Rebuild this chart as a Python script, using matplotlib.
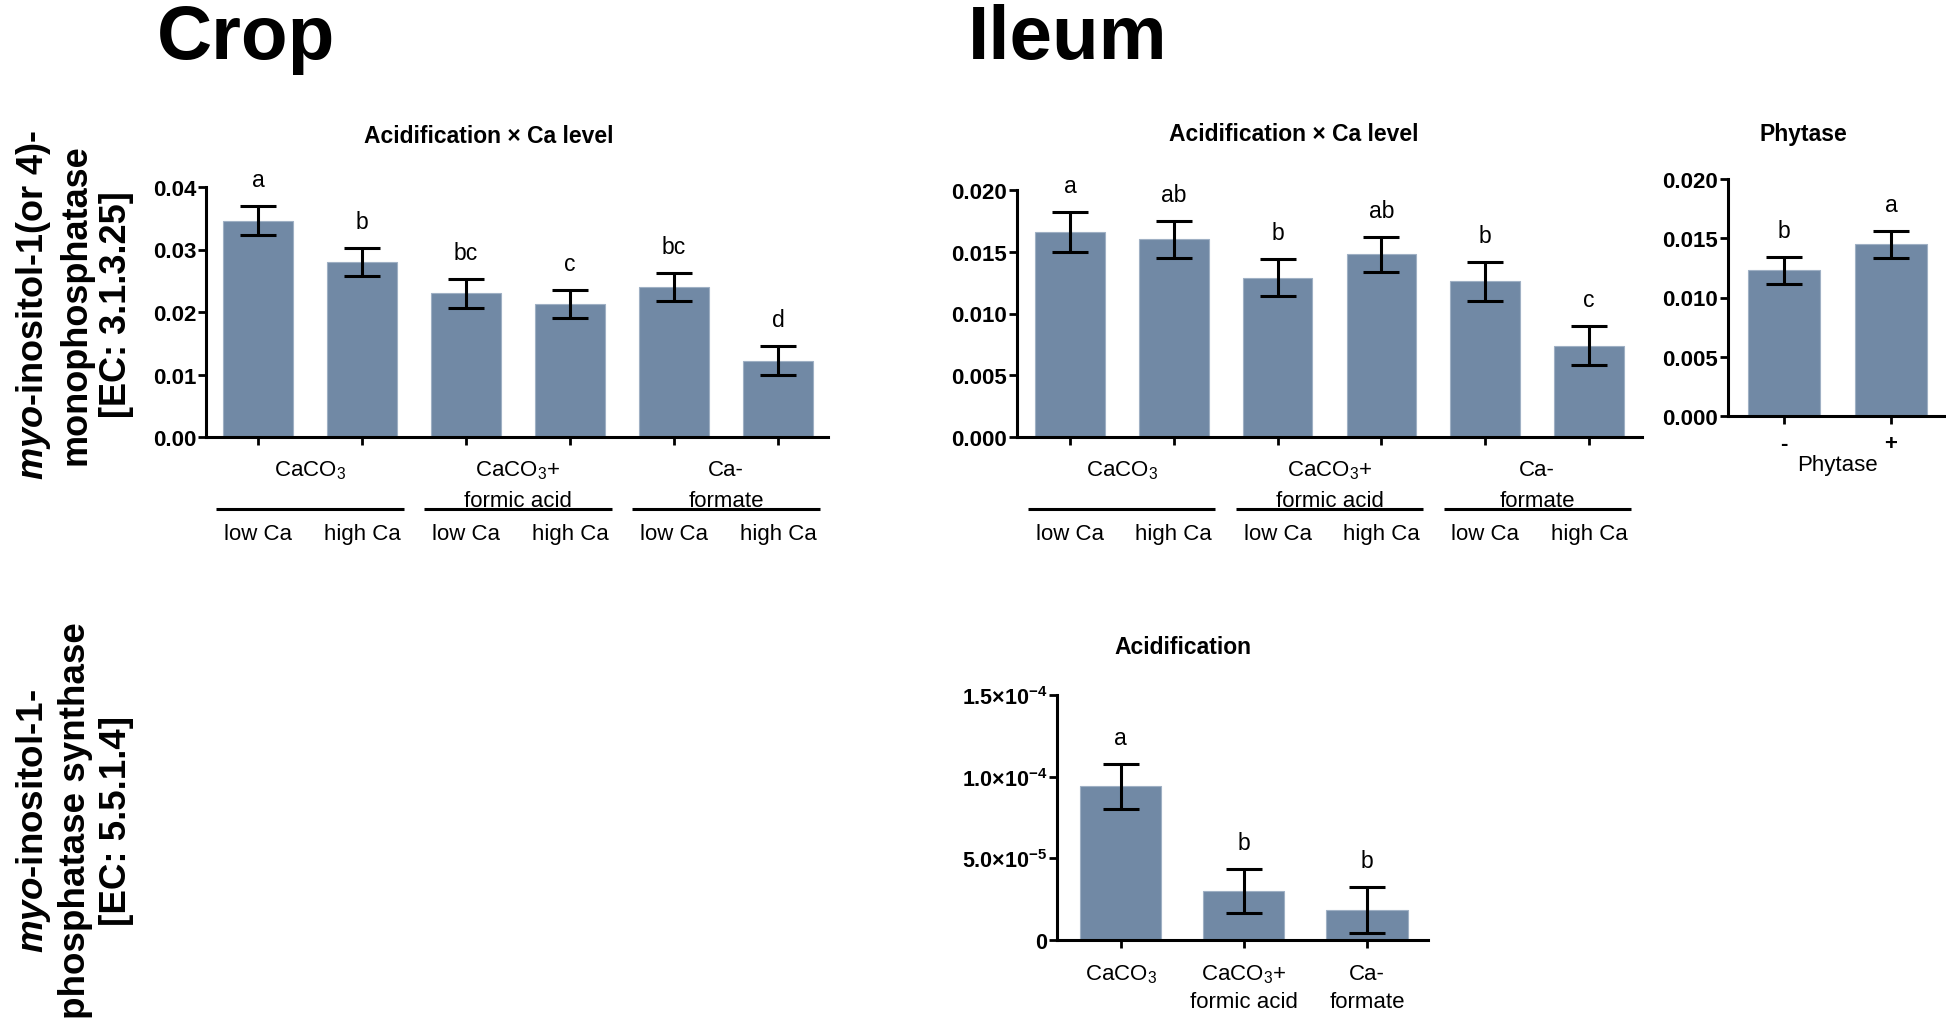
import numpy as np
import matplotlib
matplotlib.use('Agg')
import matplotlib.pyplot as plt

plt.rcParams['font.family'] = ['Liberation Sans', 'DejaVu Sans']
plt.rcParams['mathtext.fontset'] = 'custom'
plt.rcParams['mathtext.rm'] = 'Liberation Sans'
plt.rcParams['mathtext.it'] = 'Liberation Sans:italic'
plt.rcParams['mathtext.bf'] = 'Liberation Sans:bold'
plt.rcParams['mathtext.bfit'] = 'Liberation Sans:italic:bold'

# data
crop_vals = [0.0346, 0.0280, 0.0230, 0.0213, 0.0240, 0.0122]
crop_err = [0.0023, 0.0022, 0.0023, 0.0022, 0.0022, 0.0023]
crop_letters = ['a', 'b', 'bc', 'c', 'bc', 'd']

ileum_vals = [0.0166, 0.0160, 0.0129, 0.0148, 0.0126, 0.0074]
ileum_err = [0.0016, 0.0015, 0.0015, 0.0014, 0.0016, 0.0016]
ileum_letters = ['a', 'ab', 'b', 'ab', 'b', 'c']

phy_vals = [0.0123, 0.0145]
phy_err = [0.00115, 0.00113]
phy_letters = ['b', 'a']
phy_ticks = ['-', '+']

acid_vals = [9.4e-5, 3.0e-5, 1.86e-5]
acid_err = [1.4e-5, 1.32e-5, 1.41e-5]
acid_letters = ['a', 'b', 'b']

groups = ['CaCO$_3$', 'CaCO$_3$+\nformic acid', 'Ca-\nformate']
levels = ['low Ca', 'high Ca']

crop_yticks = [0.0, 0.01, 0.02, 0.03, 0.04]
crop_ylabels = ['0.00', '0.01', '0.02', '0.03', '0.04']
ileum_yticks = [0.0, 0.005, 0.010, 0.015, 0.020]
ileum_ylabels = ['0.000', '0.005', '0.010', '0.015', '0.020']
acid_yticks = [0.0, 5e-5, 1e-4, 1.5e-4]
acid_ylabels = ['0', r'$\mathbf{5.0{\times}10^{-5}}$', r'$\mathbf{1.0{\times}10^{-4}}$',
                r'$\mathbf{1.5{\times}10^{-4}}$']

BAR = '#7189a5'
EDGE = '#9fb0c4'
W, H = 1946, 1020
PT = 0.72  # points per pixel at dpi 100


def px_axes(left, top, right, bottom):
    return [left / W, 1 - bottom / H, (right - left) / W, (bottom - top) / H]


def below(ax, text, x, dy, step=31, **kw):
    # text whose baseline sits dy pixels under the x axis; one line per call
    for i, line in enumerate(text.split('\n')):
        ax.annotate(line, xy=(x, 0), xycoords=('data', 'axes fraction'),
                    xytext=(0, -(dy + step * i) * PT), textcoords='offset points',
                    ha='center', va='baseline', fontsize=16, **kw)


def panel(ax, vals, errs, letters, yticks, ylabels, xlim, width=0.67):
    x = np.arange(len(vals))
    ax.bar(x, vals, width=width, color=BAR, edgecolor=EDGE, linewidth=0.8, zorder=2)
    ax.errorbar(x, vals, yerr=errs, fmt='none', ecolor='black', elinewidth=2.2,
                capsize=13, capthick=2.2, zorder=3)
    for xi, v, e, l in zip(x, vals, errs, letters):
        ax.annotate(l, xy=(xi, v + e), xytext=(0, 20 * PT), textcoords='offset points',
                    ha='center', va='baseline', fontsize=16.5)
    ax.set_xlim(*xlim)
    ax.set_ylim(0, yticks[-1])
    ax.set_yticks(yticks)
    ax.set_yticklabels(ylabels, fontweight='bold', fontsize=16)
    ax.set_xticks(x)
    ax.set_xticklabels([])
    for s in ['top', 'right']:
        ax.spines[s].set_visible(False)
    for s in ['left', 'bottom']:
        ax.spines[s].set_linewidth(2.2)
    ax.tick_params(axis='y', direction='out', length=6, width=2, pad=1)
    ax.tick_params(axis='x', direction='out', length=5.5, width=2)
    return x


def two_factor(ax):
    for g, name in enumerate(groups):
        below(ax, name, 2 * g + 0.5, 38)
        ax.plot([2 * g - 0.4, 2 * g + 1.4], [-72 / ax.bbox.height] * 2,
                transform=ax.get_xaxis_transform(), color='black', lw=2.2,
                clip_on=False, solid_capstyle='butt')
        for k, lev in enumerate(levels):
            below(ax, lev, 2 * g + k, 102)


fig = plt.figure(figsize=(W / 100, H / 100), dpi=100)

ax1 = fig.add_axes(px_axes(206, 188, 828, 438))
ax2 = fig.add_axes(px_axes(1017, 191, 1642, 438))
ax3 = fig.add_axes(px_axes(1728, 180, 1945, 417))
ax4 = fig.add_axes(px_axes(1057, 696, 1428, 941))

panel(ax1, crop_vals, crop_err, crop_letters, crop_yticks, crop_ylabels, (-0.5, 5.48))
two_factor(ax1)

panel(ax2, ileum_vals, ileum_err, ileum_letters, ileum_yticks, ileum_ylabels, (-0.51, 5.51))
two_factor(ax2)

xp = panel(ax3, phy_vals, phy_err, phy_letters, ileum_yticks, ileum_ylabels, (-0.523, 1.505))
for xi, t in zip(xp, phy_ticks):
    ax3.annotate(t, xy=(xi, 0), xycoords=('data', 'axes fraction'),
                 xytext=(0, -28 * PT), textcoords='offset points',
                 ha='center', va='center', fontsize=16, fontweight='bold')
ax3.annotate('Phytase', xy=(0.5, 0), xycoords=('data', 'axes fraction'),
             xytext=(0, -49 * PT), textcoords='offset points',
             ha='center', va='center', fontsize=16)

xa = panel(ax4, acid_vals, acid_err, acid_letters, acid_yticks, acid_ylabels,
           (-0.516, 2.496), width=0.66)
ax4.set_yticklabels(acid_ylabels, fontweight='bold', fontsize=15.5)
for xi, name in zip(xa, groups):
    below(ax4, name, xi, 39, step=28)

# panel titles
fig.text(489 / W, 1 - 143 / H, 'Acidification × Ca level', ha='center', va='baseline',
         fontsize=16.5, fontweight='bold')
fig.text(1294 / W, 1 - 141 / H, 'Acidification × Ca level', ha='center', va='baseline',
         fontsize=16.5, fontweight='bold')
fig.text(1803 / W, 1 - 141 / H, 'Phytase', ha='center', va='baseline',
         fontsize=16.5, fontweight='bold')
fig.text(1183 / W, 1 - 654 / H, 'Acidification', ha='center', va='baseline',
         fontsize=16.5, fontweight='bold')

# big column headings
fig.text(157 / W, 1 - 59 / H, 'Crop', ha='left', va='baseline', fontsize=55, fontweight='bold')
fig.text(968 / W, 1 - 59 / H, 'Ileum', ha='left', va='baseline', fontsize=55, fontweight='bold')

# row labels
fig.text(74 / W, 1 - 305 / H,
         '$\\mathbfit{myo}$-inositol-1(or 4)-\nmonophosphatase\n[EC: 3.1.3.25]',
         rotation=90, ha='center', va='center', multialignment='center',
         fontsize=26, fontweight='bold', linespacing=1.2)
fig.text(74 / W, 1 - 821 / H,
         '$\\mathbfit{myo}$-inositol-1-\nphosphatase synthase\n[EC: 5.5.1.4]',
         rotation=90, ha='center', va='center', multialignment='center',
         fontsize=26.5, fontweight='bold', linespacing=1.2)

fig.savefig('out.png', dpi=100, facecolor='white')
